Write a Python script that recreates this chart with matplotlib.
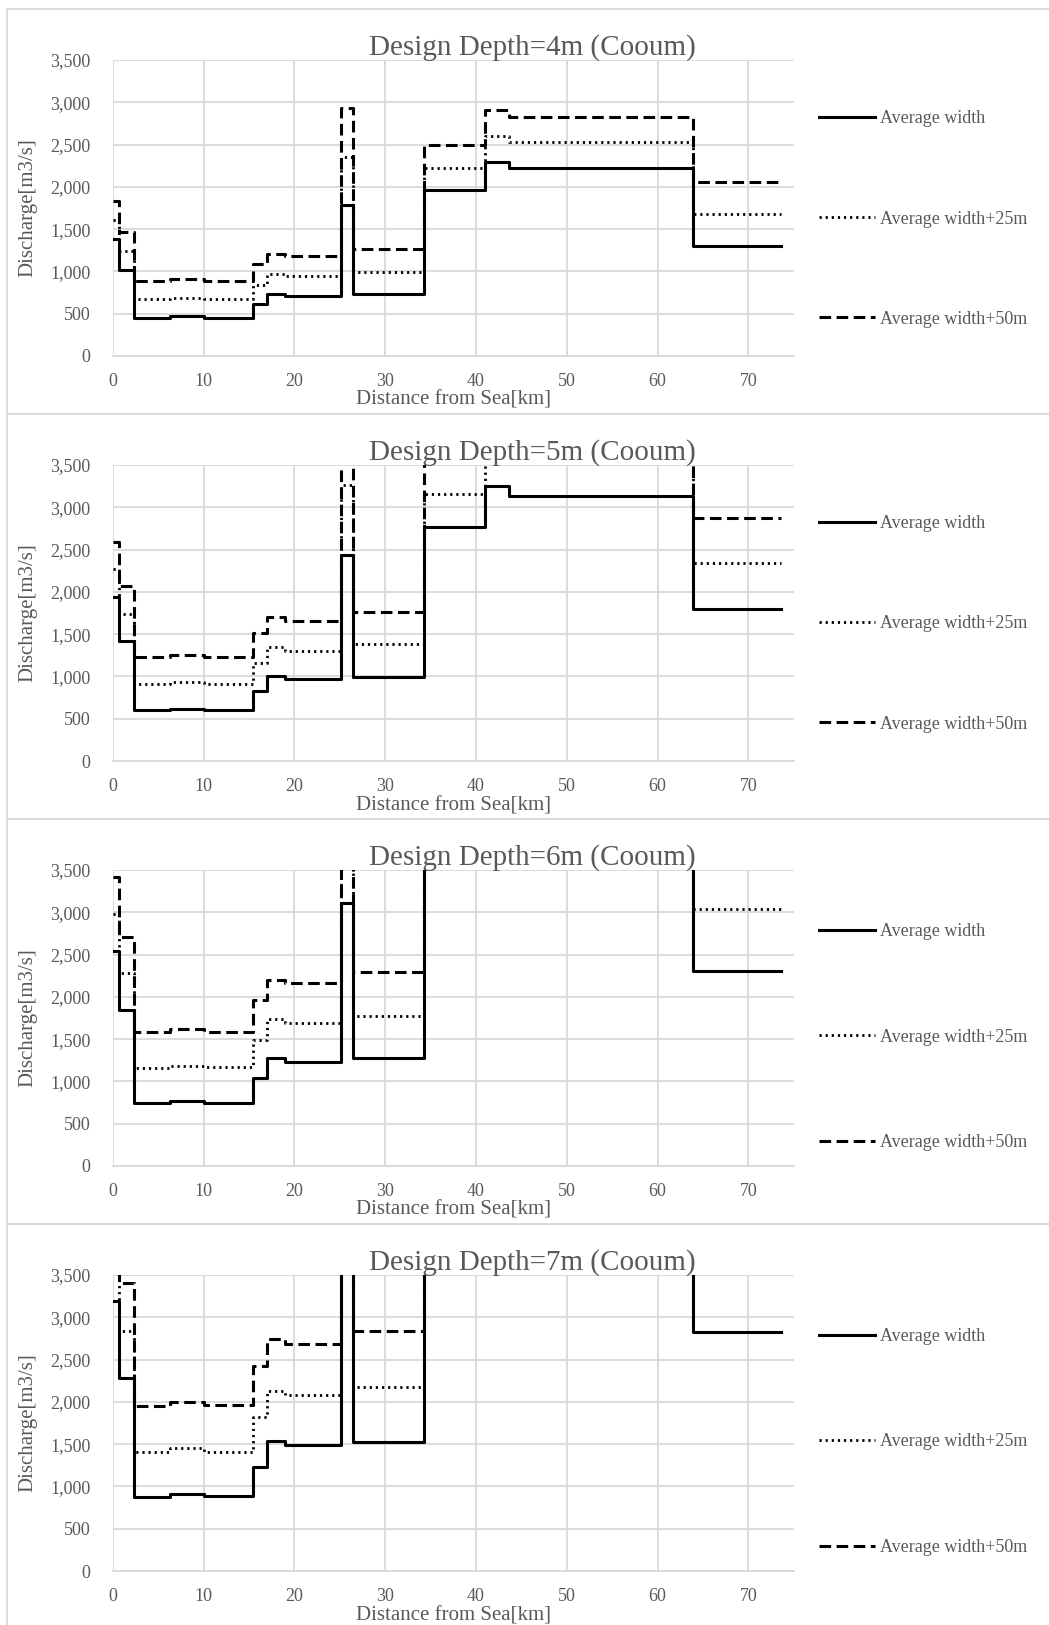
import matplotlib
matplotlib.use('Agg')
import matplotlib.pyplot as plt
from matplotlib.patches import Rectangle

# step edges along the river [km]
km_edges = [0, 0.7, 2.4, 6.3, 10, 15.4, 17, 19, 25.1, 26.5, 34.3, 41, 43.6, 63.9, 73.6]

depths = ['4m', '5m', '6m', '7m']
series_labels = ['Average width', 'Average width+25m', 'Average width+50m']

# discharge per section [m3/s]; values above 3,500 run off the chart
avg_4m = [1380, 1020, 453, 468, 453, 612, 733, 710, 1782, 735, 1959, 2298, 2219, 1305]
w25_4m = [1608, 1245, 670, 688, 670, 840, 970, 950, 2357, 997, 2227, 2605, 2527, 1683]
w50_4m = [1833, 1462, 887, 905, 887, 1092, 1210, 1186, 2929, 1265, 2495, 2909, 2830, 2061]

avg_5m = [1943, 1423, 603, 620, 603, 828, 1005, 970, 2436, 997, 2763, 3252, 3138, 1797]
w25_5m = [2266, 1738, 907, 930, 915, 1163, 1344, 1305, 3264, 1380, 3153, 3690, 3575, 2337]
w50_5m = [2594, 2069, 1230, 1258, 1234, 1510, 1703, 1659, 4020, 1758, 3560, 4120, 4000, 2877]

avg_6m = [2546, 1845, 741, 770, 749, 1037, 1273, 1234, 3106, 1273, 3540, 4160, 4010, 2306]
w25_6m = [2980, 2278, 1163, 1188, 1167, 1490, 1734, 1695, 4180, 1774, 4030, 4720, 4570, 3035]
w50_6m = [3421, 2712, 1588, 1618, 1588, 1963, 2199, 2160, 5150, 2290, 4560, 5270, 5120, 3740]

avg_7m = [3193, 2278, 879, 915, 891, 1234, 1541, 1490, 3730, 1529, 4250, 5000, 4810, 2830]
w25_7m = [3600, 2838, 1411, 1450, 1411, 1825, 2132, 2081, 5010, 2172, 4840, 5660, 5470, 3700]
w50_7m = [4100, 3402, 1955, 1994, 1963, 2424, 2739, 2684, 6180, 2838, 5460, 6320, 6130, 4500]

data = {
    '4m': [avg_4m, w25_4m, w50_4m],
    '5m': [avg_5m, w25_5m, w50_5m],
    '6m': [avg_6m, w25_6m, w50_6m],
    '7m': [avg_7m, w25_7m, w50_7m],
}

W, H = 1049, 1625
fig = plt.figure(figsize=(W / 100, H / 100), dpi=100)
plt.rcParams['font.family'] = ['Liberation Serif', 'DejaVu Serif']
txt = '#595959'
grid = '#d9d9d9'

styles = [
    dict(color='black', lw=2.2, ls='-'),
    dict(color='black', lw=2.0, ls=(0, (0.8, 1.4)), dash_capstyle='butt'),
    dict(color='black', lw=2.2, ls=(0, (3.8, 1.8)), dash_capstyle='butt'),
]

# legend centre (px from top) and spacing per panel
leg_centre = [219, 624, 1037, 1442]
leg_space = [4.6, 4.6, 4.9, 4.9]

for k, d in enumerate(depths):
    off = 405 * k
    # panel border (right side runs off the picture)
    fig.patches.append(Rectangle((7 / W, 1 - (9 + off + 405) / H), 1060 / W, 405 / H,
                                 transform=fig.transFigure, fill=False,
                                 edgecolor=grid, lw=1.3))
    ax = fig.add_axes([112.7 / W, 1 - (356 + off) / H, 681 / W, 296 / H])
    for vals, lab, st in zip(data[d], series_labels, styles):
        ax.step(km_edges, vals + [vals[-1]], where='post', label=lab, **st)
    ax.set_xlim(0, 75)
    ax.set_ylim(0, 3500)
    ax.set_xticks(range(0, 71, 10))
    ax.set_yticks(range(0, 3501, 500))
    ax.set_yticklabels([f'{v:,}' for v in range(0, 3501, 500)])
    ax.grid(True, color=grid, lw=1.3)
    ax.set_axisbelow(True)
    for s in ['top', 'right', 'left']:
        ax.spines[s].set_visible(False)
    ax.spines['bottom'].set_color(grid)
    ax.spines['bottom'].set_linewidth(1.3)
    ax.tick_params(length=0, labelsize=13, labelcolor=txt)
    ax.tick_params(axis='y', pad=16)
    ax.tick_params(axis='x', pad=12)

    fig.text(532 / W, 1 - (55 + off) / H, f'Design Depth={d} (Cooum)',
             ha='center', va='baseline', fontsize=21, color=txt)
    fig.text(28 / W, 1 - (208 + off) / H, 'Discharge[m3/s]', rotation=90,
             ha='center', va='center', fontsize=15, color=txt)
    fig.text(453 / W, 1 - (405 + off) / H, 'Distance from Sea[km]',
             ha='center', va='baseline', fontsize=15, color=txt)

    ax.legend(loc='center left', bbox_to_anchor=(819 / W, 1 - leg_centre[k] / H),
              bbox_transform=fig.transFigure, frameon=False, fontsize=13,
              labelcolor=txt, handlelength=3.1, handletextpad=0.3,
              labelspacing=leg_space[k], borderpad=0, borderaxespad=0)

fig.savefig('out.png', dpi=100)
